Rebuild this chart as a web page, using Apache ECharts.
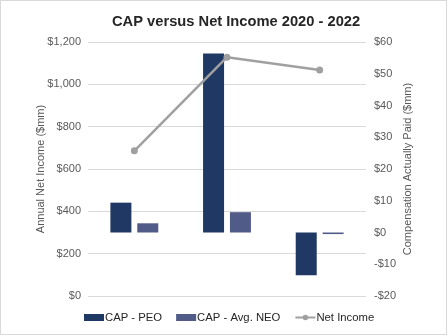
<!DOCTYPE html>
<html><head><meta charset="utf-8">
<script src="https://cdn.jsdelivr.net/npm/echarts@6/dist/echarts.min.js"></script>
<style>html,body{margin:0;padding:0;background:#fff}#c{width:447px;height:335px;border:1px solid #d9d9d9;box-sizing:border-box;}</style>
</head><body><div id="c"></div>
<script>
const years = ['2020', '2021', '2022'];
const capPEO = [9.4, 56.4, -13.5];
const capNEO = [2.9, 6.4, -0.5];
const netIncome = [686, 1128, 1068];
const leftTicks = {min: 0, max: 1200, interval: 200};
const rightTicks = {min: -20, max: 60, interval: 10};

const chart = echarts.init(document.getElementById('c'));
const font = 'Liberation Sans, Arial, sans-serif';
chart.setOption({
  animation: false,
  textStyle: {fontFamily: font},
  title: {text: 'CAP versus Net Income 2020 - 2022', left: 106, top: 8,
    textStyle: {fontSize: 14.7, fontWeight: 'bold', color: '#262626', fontFamily: font}},
  grid: {left: 87, right: 80, top: 41, bottom: 38},
  legend: {bottom: 6, left: 78, itemGap: 14, itemWidth: 20, itemHeight: 7,
    textStyle: {fontSize: 11.3, color: '#262626', fontFamily: font, padding: [0, 0, 0, -4]},
    data: [{name: 'CAP - PEO', icon: 'rect'},
           {name: 'CAP - Avg. NEO', icon: 'rect', textStyle: {width: 88}},
           {name: 'Net Income'}]},
  xAxis: {type: 'category', data: years, axisLine: {show: false}, axisTick: {show: false}, axisLabel: {show: false}},
  yAxis: [
    {type: 'value', min: leftTicks.min, max: leftTicks.max, interval: leftTicks.interval,
     name: 'Annual Net Income ($mm)', nameLocation: 'middle', nameGap: 42, nameRotate: 90, nameMoveOverlap: false,
     nameTextStyle: {fontSize: 11, color: '#595959', fontFamily: font},
     axisLabel: {formatter: v => '$' + v.toLocaleString('en-US'), fontSize: 11, color: '#595959', margin: 7},
     splitLine: {lineStyle: {color: '#d9d9d9'}}, axisLine: {show: false}, axisTick: {show: false}},
    {type: 'value', min: rightTicks.min, max: rightTicks.max, interval: rightTicks.interval,
     name: 'Compensation Actually Paid ($mm)', nameLocation: 'middle', nameGap: 36, nameRotate: 90, nameMoveOverlap: false,
     nameTextStyle: {fontSize: 11, color: '#595959', fontFamily: font},
     axisLabel: {formatter: v => (v < 0 ? '-$' + (-v) : '$' + v), fontSize: 11, color: '#595959', margin: 8},
     splitLine: {show: false}, axisLine: {show: false}, axisTick: {show: false}}
  ],
  series: [
    {name: 'CAP - PEO', type: 'bar', yAxisIndex: 1, data: capPEO, barWidth: 21, barGap: '28%',
     itemStyle: {color: '#203864'}},
    {name: 'CAP - Avg. NEO', type: 'bar', yAxisIndex: 1, data: capNEO, barWidth: 21,
     itemStyle: {color: '#515b88'}},
    {name: 'Net Income', type: 'line', yAxisIndex: 0, data: netIncome, symbol: 'circle', symbolSize: 7,
     lineStyle: {color: '#a0a0a0', width: 2.5}, itemStyle: {color: '#a0a0a0'}}
  ]
});
</script></body></html>
